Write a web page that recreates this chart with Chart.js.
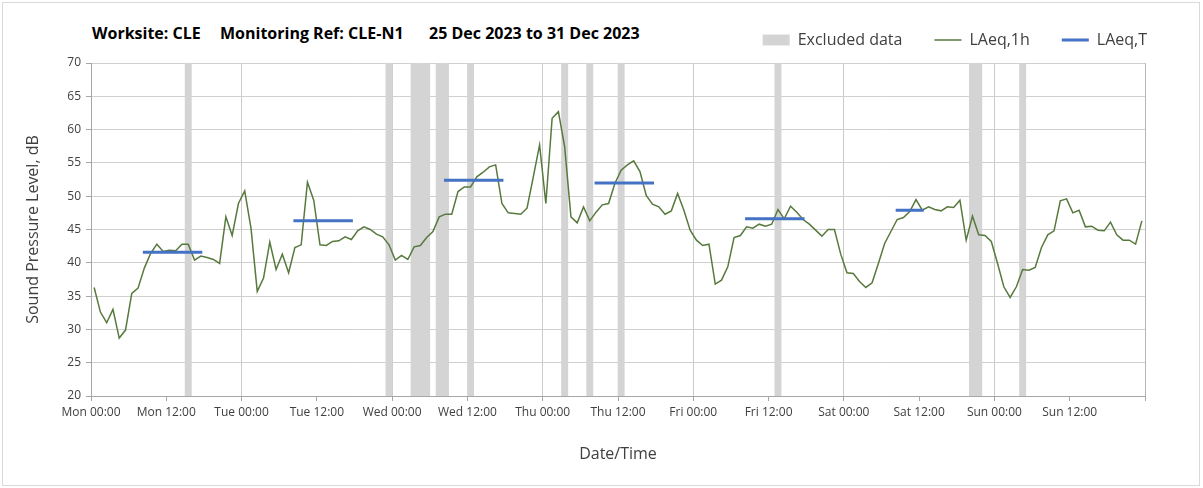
<!DOCTYPE html>
<html>
<head>
<meta charset="utf-8">
<script src="https://cdn.jsdelivr.net/npm/chart.js@4"></script>
<style>
  body { margin: 0; background: #fff; }
  #wrap { position: relative; width: 1203px; height: 488px; }
  #frame { position: absolute; left: 2px; top: 2px; width: 1196px; height: 482px; border: 1px solid #d9d9d9; }
  canvas { position: absolute; left: 0; top: 0; }
  .ttl { position: absolute; top: 22px; font: bold 16px "Open Sans", sans-serif; color: #000; white-space: nowrap; }
</style>
</head>
<body>
<div id="wrap">
  <div id="frame"></div>
  <span class="ttl" style="left:92px">Worksite: CLE</span>
  <span class="ttl" style="left:220px">Monitoring Ref: CLE-N1</span>
  <span class="ttl" style="left:429px">25 Dec 2023 to 31 Dec 2023</span>
  <canvas id="chart" width="1203" height="488"></canvas>
</div>
<script>
// hourly LAeq,1h readings, one array per day (value for hour 00-01, 01-02, ...)
const mon = [36.3, 32.6, 31.0, 33.0, 28.7, 29.9, 35.4, 36.2, 39.2, 41.4, 42.8, 41.7, 41.9, 41.8, 42.8, 42.8, 40.4, 41.0, 40.8, 40.5, 39.9, 46.9, 44.1, 48.9];
const tue = [50.8, 45.2, 35.7, 37.7, 43.1, 39.0, 41.3, 38.5, 42.3, 42.7, 52.1, 49.4, 42.7, 42.6, 43.2, 43.3, 43.9, 43.5, 44.8, 45.4, 45.0, 44.3, 43.9, 42.7];
const wed = [40.4, 41.1, 40.5, 42.4, 42.6, 43.8, 44.7, 46.9, 47.3, 47.3, 50.7, 51.4, 51.4, 52.9, 53.6, 54.4, 54.7, 48.9, 47.5, 47.4, 47.3, 48.2, 52.9, 57.7];
const thu = [48.9, 61.7, 62.7, 57.4, 46.9, 46.0, 48.4, 46.3, 47.6, 48.7, 48.9, 51.9, 53.9, 54.7, 55.3, 53.7, 50.1, 48.8, 48.4, 47.3, 47.8, 50.4, 47.9, 44.9];
const fri = [43.4, 42.6, 42.8, 36.8, 37.4, 39.4, 43.8, 44.1, 45.4, 45.2, 45.8, 45.5, 45.8, 48.0, 46.6, 48.5, 47.6, 46.5, 45.8, 44.9, 44.0, 45.0, 45.0, 41.3];
const sat = [38.5, 38.4, 37.2, 36.3, 37.0, 39.9, 42.9, 44.7, 46.5, 46.8, 47.7, 49.5, 47.9, 48.4, 48.0, 47.8, 48.4, 48.3, 49.4, 43.4, 47.0, 44.2, 44.1, 43.2];
const sun = [39.9, 36.4, 34.8, 36.4, 39.0, 38.9, 39.3, 42.3, 44.2, 44.8, 49.3, 49.6, 47.5, 47.9, 45.4, 45.5, 44.9, 44.8, 46.1, 44.2, 43.4, 43.4, 42.8, 46.3];

// hours (from Mon 00:00) whose data was excluded
const excludedHours = [15, 47, 51, 52, 53, 55, 56, 60, 75, 79, 84, 109, 140, 141, 148];

// LAeq,T over the working periods
const periodDay = [0, 1, 2, 3, 4, 5];
const periodStart = [8, 8, 8, 8, 8, 8];
const periodEnd = [18, 18, 18, 18, 18, 13];
const laeqT = [41.6, 46.3, 52.4, 52.0, 46.6, 47.9];

const dayNames = ['Mon', 'Tue', 'Wed', 'Thu', 'Fri', 'Sat', 'Sun'];
const timeNames = ['00:00', '12:00'];

const hourly = [...mon, ...tue, ...wed, ...thu, ...fri, ...sat, ...sun];
const linePoints = hourly.map((v, i) => ({ x: i + 0.5, y: v }));
const barPoints = excludedHours.map(h => ({ x: h + 0.5, y: [20, 70] }));
const tPoints = [];
periodDay.forEach((d, i) => {
  tPoints.push({ x: d * 24 + periodStart[i] + 0.5, y: laeqT[i] });
  tPoints.push({ x: d * 24 + periodEnd[i] - 0.5, y: laeqT[i] });
  tPoints.push({ x: d * 24 + periodEnd[i], y: null });
});

const txt = '#404040';
const font = 'Open Sans';

const legendBox = {
  id: 'legendBox',
  beforeInit(chart) {
    const fit = chart.legend.fit;
    chart.legend.fit = function () {
      fit.bind(chart.legend)();
      this.height = 63;
    };
  },
  afterLayout(chart) {
    chart.legend.right = 1179;
  }
};

function dayLine(c) {
  const v = c.tick ? Math.round(c.tick.value) : -1;
  if (v === 168) return '#b5b5b5';
  return v % 24 === 0 ? '#cacaca' : 'rgba(0,0,0,0)';
}

new Chart(document.getElementById('chart'), {
  type: 'line',
  data: {
    datasets: [{
      type: 'bar',
      label: 'Excluded data',
      data: barPoints,
      backgroundColor: '#d4d4d4',
      borderWidth: 0,
      barPercentage: 1,
      categoryPercentage: 1,
      grouped: false,
      pointStyle: 'rect',
      order: 3
    }, {
      label: 'LAeq,1h',
      data: linePoints,
      borderColor: '#57793d',
      borderWidth: 1.5,
      pointRadius: 0,
      pointStyle: 'line',
      tension: 0,
      order: 2
    }, {
      label: 'LAeq,T',
      data: tPoints,
      borderColor: '#4472c4',
      borderWidth: 3,
      borderCapStyle: 'square',
      pointRadius: 0,
      pointStyle: 'line',
      spanGaps: false,
      order: 1
    }]
  },
  options: {
    responsive: false,
    animation: false,
    events: [],
    layout: { padding: { left: 18, right: 58, top: 0, bottom: 24 } },
    plugins: {
      legend: {
        position: 'top',
        align: 'end',
        labels: {
          usePointStyle: true,
          pointStyleWidth: 27,
          boxHeight: 11,
          padding: 32,
          color: txt,
          font: { family: font, size: 16 },
          sort: (a, b) => a.datasetIndex - b.datasetIndex
        }
      },
      tooltip: { enabled: false }
    },
    scales: {
      x: {
        type: 'linear',
        min: 0,
        max: 168,
        offset: false,
        afterFit: s => { s.height = 68; },
        ticks: {
          stepSize: 12,
          autoSkip: false,
          maxRotation: 0,
          padding: 4,
          color: txt,
          font: { family: font, size: 12 },
          callback: v => v >= 168 ? '' : dayNames[Math.floor(v / 24)] + ' ' + timeNames[(v % 24) / 12]
        },
        grid: {
          offset: false,
          color: dayLine,
          lineWidth: 1,
          tickColor: '#a6a6a6',
          tickLength: 5
        },
        border: { color: '#a6a6a6' },
        title: {
          display: true,
          text: 'Date/Time',
          color: txt,
          font: { family: font, size: 16 },
          padding: { top: 0, bottom: 0 }
        }
      },
      y: {
        min: 20,
        max: 70,
        afterFit: s => { s.width = 73; },
        ticks: {
          stepSize: 5,
          padding: 5,
          color: txt,
          font: { family: font, size: 12 }
        },
        grid: {
          color: '#d0d0d0',
          tickColor: '#a6a6a6',
          tickLength: 5
        },
        border: { color: '#a6a6a6' },
        title: {
          display: true,
          text: 'Sound Pressure Level, dB',
          color: txt,
          font: { family: font, size: 16 },
          padding: { top: 6, bottom: 0 }
        }
      }
    }
  },
  plugins: [legendBox]
});
</script>
</body>
</html>
